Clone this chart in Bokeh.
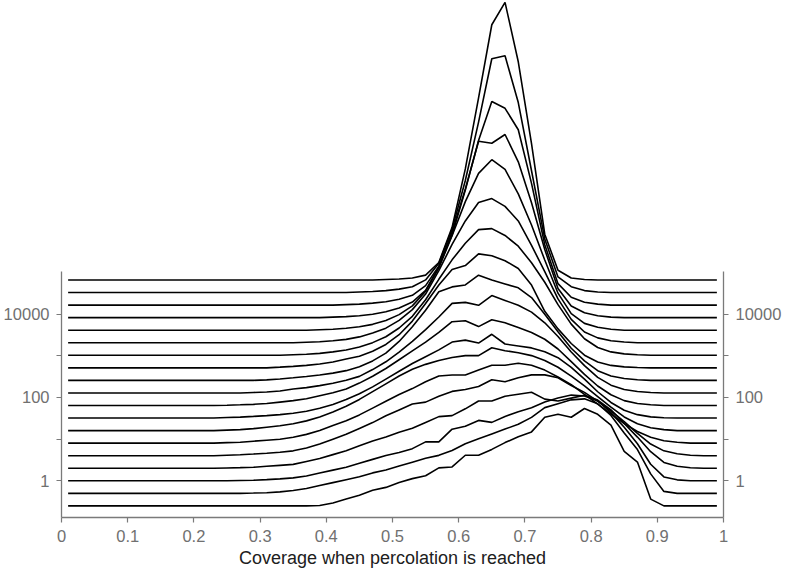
import numpy as np
from bokeh.plotting import figure
from bokeh.models import LinearAxis, FixedTicker
from bokeh.embed import file_html
from bokeh.resources import INLINE

# bin centres of the coverage histogram (0.01 ... 0.99, step 0.02)
coverage = np.round(np.arange(0.01, 1.0, 0.02), 2)

# system sizes (ridge baselines, log scale)
sizes = [2.0 ** k for k in range(-2, 17)]

# ridge heights (relative units) for each size, bottom (0.25) to top (65536)
h_m2 = [0]*19 + [0.5, 3, 7, 11, 16, 19, 24, 28, 31, 39, 40, 52, 52, 58, 65, 71, 76, 91, 94, 91, 100, 94, 83, 56, 45, 7] + [0]*5
h_m1 = [0]*14 + [0.3, 0.7, 1.5, 3, 5, 8, 11, 14, 17, 21, 24, 28, 32, 36, 39, 44, 51, 56, 61, 66, 71, 78, 88, 92, 96, 97, 92, 80, 62, 45, 20, 2] + [0]*4
h_0 = [0]*13 + [0.3, 0.6, 1.2, 2, 3, 5, 8, 11, 14, 18, 22, 26, 29, 33, 40, 40, 53, 56, 62, 60, 66, 71, 75, 81, 85, 88, 87, 82, 70, 55, 38, 17, 4, 1] + [0]*3
h_1 = [0]*12 + [0.3, 0.6, 1, 2, 3, 4, 7, 10, 14, 18, 23, 28, 32, 37, 41, 47, 53, 54, 61, 69, 69, 74, 76, 78, 71, 69, 72, 75, 70, 60, 46, 32, 17, 6, 2, 0.5] + [0]*2
h_2 = [0]*12 + [0.5, 1, 1.7, 2.5, 3.5, 5, 8, 12, 17, 22, 28, 34, 41, 47, 53, 55, 61, 66, 68, 71, 78, 76, 80, 83, 83, 80, 72, 65, 56, 46, 35, 23, 12, 5, 2, 0.5] + [0]*2
h_3 = [0]*12 + [0.5, 1, 2, 3, 4, 6, 9, 13, 18, 23, 29, 36, 43, 50, 56, 63, 69, 70, 70, 75, 80, 80, 82, 80, 75, 68, 60, 50, 40, 30, 20, 12, 6, 2.5, 1] + [0]*3
h_4 = [0]*12 + [0.5, 1, 2, 3.5, 5, 7, 10, 14, 19, 25, 32, 40, 48, 56, 63, 68, 72, 75, 77, 77, 85, 82, 80, 77, 72, 65, 56, 46, 35, 24, 14, 7, 3, 1] + [0]*4
h_5 = [0]*12 + [0.5, 1, 1.7, 2.5, 3.5, 5, 7, 10, 14, 19, 25, 32, 40, 48, 56, 63, 70, 78, 80, 77, 86, 76, 74, 72, 68, 62, 52, 40, 27, 16, 8, 3.5, 1.2, 0.3] + [0]*4
h_6 = [0]*12 + [0.3, 0.7, 1.2, 2, 3.5, 5, 7, 10, 13, 17, 23, 30, 38, 47, 56, 65, 75, 86, 87, 81, 88, 85, 80, 75, 68, 58, 45, 32, 20, 11, 5, 2, 0.7] + [0]*5
h_7 = [0]*14 + [0.5, 1, 2, 4, 5.5, 7.5, 10, 13, 17, 24, 32, 42, 53, 65, 78, 92, 93, 90, 100, 95, 90, 83, 72, 58, 42, 28, 16, 8, 3.5, 1.5, 0.5] + [0]*5
h_8 = [0]*15 + [0.5, 1.5, 2.7, 4, 5.5, 7.5, 10, 14, 20, 28, 40, 55, 72, 91, 96, 98, 108, 103, 99, 95, 85, 68, 50, 33, 20, 10, 4.5, 2, 0.7] + [0]*6
h_9 = [0]*16 + [0.7, 1.5, 2.5, 4, 6, 9, 12, 17, 24, 34, 48, 66, 85, 101, 105, 117, 115, 110, 102, 85, 58, 40, 25, 13, 6, 2.5, 1, 0.3] + [0]*6
h_10 = [0]*17 + [0.5, 1, 2, 3.5, 5.5, 8.5, 13, 19, 28, 40, 57, 78, 98, 115, 129, 130, 123, 112, 95, 75, 52, 32, 17, 8, 3.5, 1.5, 0.5] + [0]*6
h_11 = [0]*18 + [0.5, 1, 2, 3.5, 6, 10, 15, 23, 34, 50, 74, 101, 125, 144, 148, 140, 125, 100, 73, 45, 24, 11, 5, 2, 0.7] + [0]*7
h_12 = [0]*19 + [0.5, 1, 2, 3.5, 6, 10, 16, 25, 40, 64, 97, 132, 161, 175, 165, 140, 108, 72, 38, 17, 7, 3, 1] + [0]*8
h_13 = [0]*20 + [0.5, 1, 2, 3.5, 6, 10, 16, 28, 52, 88, 132, 181, 179, 188, 160, 118, 70, 30, 12, 5, 2, 0.5] + [0]*8
h_14 = [0]*21 + [0.5, 1, 2, 3.5, 6, 10, 20, 40, 72, 118, 169, 209, 202, 180, 125, 62, 22, 8, 3, 1] + [0]*9
h_15 = [0]*22 + [0.5, 1, 2, 3.5, 6, 13, 30, 65, 115, 175, 240, 243, 195, 125, 55, 16, 6, 2, 0.5] + [0]*9
h_16 = [0]*24 + [0.5, 1, 2, 5, 18, 54, 114, 187, 262, 285, 224, 140, 47, 10, 2, 0.5] + [0]*10

heights = [h_m2, h_m1, h_0, h_1, h_2, h_3, h_4, h_5, h_6, h_7, h_8,
           h_9, h_10, h_11, h_12, h_13, h_14, h_15, h_16]

HEIGHT_SCALE = 1 / 42.8   # relative height -> decades on the size axis

# axis ticks
x_ticks = [0, 0.1, 0.2, 0.3, 0.4, 0.5, 0.6, 0.7, 0.8, 0.9, 1]
x_tick_labels = ["0", "0.1", "0.2", "0.3", "0.4", "0.5", "0.6", "0.7", "0.8", "0.9", "1"]
y_tick_values = [1, 10, 100, 1000, 10000]
y_tick_labels = ["1", "", "100", "", "10000"]

Y_BOTTOM, Y_TOP, AXIS_TOP = -0.88, 11.52, 5.02

p = figure(width=784, height=571, x_range=(0, 1), y_range=(Y_BOTTOM, Y_TOP),
           output_backend="svg", toolbar_location=None,
           min_border_left=58, min_border_right=59, min_border_top=0, min_border_bottom=54)
p.outline_line_color = None
p.xgrid.visible = False
p.ygrid.visible = False
p.background_fill_color = "white"
p.border_fill_color = "white"

for size, h in zip(sizes, heights):
    y = np.log10(size) + np.array(h, dtype=float) * HEIGHT_SCALE
    p.line(coverage, y, line_color="black", line_width=1.6)

AX_COL = "#7a7a7a"
LAB_COL = "#707070"
FONT = "Liberation Sans"

xa = p.xaxis[0]
xa.ticker = FixedTicker(ticks=x_ticks)
xa.major_label_overrides = dict(zip(x_ticks, x_tick_labels))
xa.axis_label = "Coverage when percolation is reached"
xa.axis_label_text_font = FONT
xa.axis_label_text_font_size = "18px"
xa.axis_label_text_font_style = "normal"
xa.axis_label_text_color = "#202020"
xa.axis_label_standoff = 3
xa.major_label_standoff = 7

y_ticks = [float(np.log10(v)) for v in y_tick_values]
ya = p.yaxis[0]
ya2 = LinearAxis()
p.add_layout(ya2, "right")
for ax in (ya, ya2):
    ax.ticker = FixedTicker(ticks=y_ticks)
    ax.major_label_overrides = dict(zip(y_ticks, y_tick_labels))
    ax.bounds = (Y_BOTTOM, AXIS_TOP)
    ax.major_label_standoff = 7

for ax in (xa, ya, ya2):
    ax.axis_line_color = AX_COL
    ax.axis_line_width = 1.3
    ax.major_tick_line_color = AX_COL
    ax.major_tick_line_width = 1.2
    ax.major_tick_out = 5
    ax.major_tick_in = 0
    ax.minor_tick_line_color = None
    ax.major_label_text_font = FONT
    ax.major_label_text_font_size = "16.5px"
    ax.major_label_text_color = LAB_COL

open("out.html", "w").write(file_html(p, INLINE))
